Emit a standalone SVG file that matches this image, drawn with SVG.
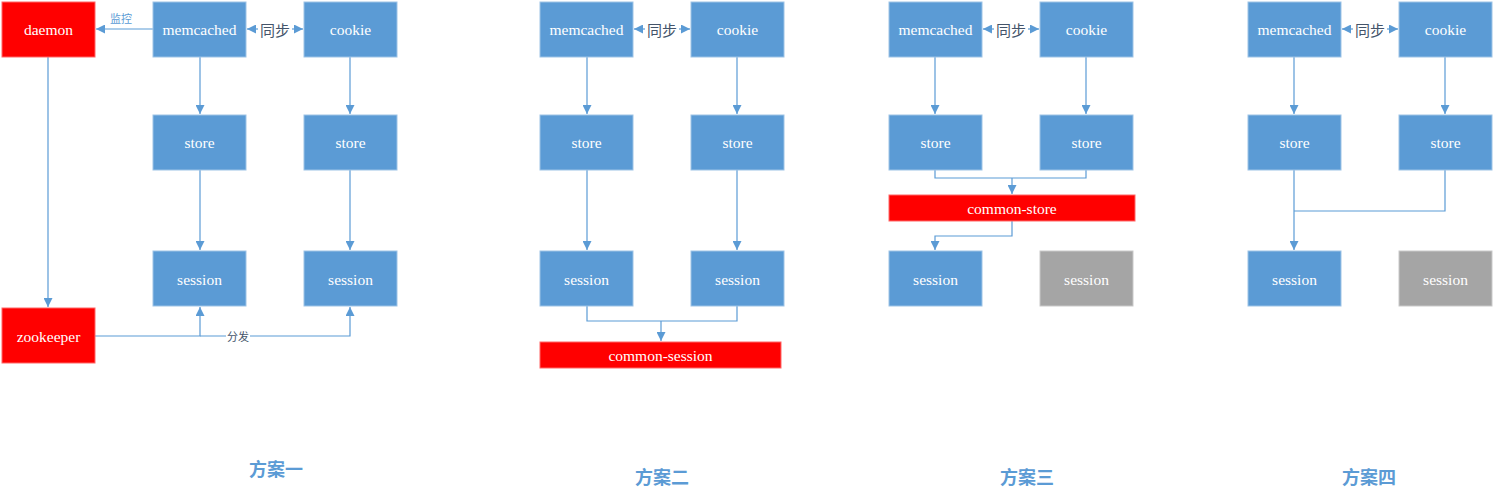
<svg xmlns="http://www.w3.org/2000/svg" width="1494" height="495" viewBox="0 0 1494 495">
<style>
.b{fill:#5B9BD5;stroke:#9DC3E6;stroke-width:1}
.r{fill:#FF0000;stroke:#FF6666;stroke-width:1}
.g{fill:#A5A5A5;stroke:#C9C9C9;stroke-width:1}
.t{font-family:"Liberation Serif","Noto Sans CJK SC",serif;font-size:15.5px;fill:#fff;text-anchor:middle;dominant-baseline:central}
.c{fill:none;stroke:#5B9BD5;stroke-width:1.2}
.sy{font-family:"Noto Sans CJK SC",sans-serif;font-size:15px;fill:#44546A;text-anchor:middle;dominant-baseline:central}
.lb{font-family:"Noto Sans CJK SC",sans-serif;font-size:11px;text-anchor:middle;dominant-baseline:central}
.ti{font-family:"Noto Sans CJK SC",sans-serif;font-size:18px;font-weight:bold;fill:#5B9BD5;text-anchor:middle;dominant-baseline:central}
</style>
<defs>
<marker id="a" viewBox="0 0 10 10" refX="10" refY="5" markerWidth="9" markerHeight="9" markerUnits="userSpaceOnUse" orient="auto">
<path d="M0,0 L10,5 L0,10 z" fill="#5B9BD5"/>
</marker>
</defs>
<g id="connectors">
<path class="c" d="M153,29 H96" marker-end="url(#a)"/>
<path class="c" d="M258,29 H247" marker-end="url(#a)"/>
<path class="c" d="M292,29 H303" marker-end="url(#a)"/>
<path class="c" d="M200,57 V114" marker-end="url(#a)"/>
<path class="c" d="M350,57 V114" marker-end="url(#a)"/>
<path class="c" d="M200,170 V250" marker-end="url(#a)"/>
<path class="c" d="M350,170 V250" marker-end="url(#a)"/>
<path class="c" d="M48,57 V307" marker-end="url(#a)"/>
<path class="c" d="M95,336 H200 V307" marker-end="url(#a)"/>
<path class="c" d="M200,336 H350 V307" marker-end="url(#a)"/>
<path class="c" d="M645,29 H634" marker-end="url(#a)"/>
<path class="c" d="M679,29 H690" marker-end="url(#a)"/>
<path class="c" d="M587,57 V114" marker-end="url(#a)"/>
<path class="c" d="M737,57 V114" marker-end="url(#a)"/>
<path class="c" d="M587,170 V250" marker-end="url(#a)"/>
<path class="c" d="M737,170 V250" marker-end="url(#a)"/>
<path class="c" d="M587,306 V321 H737 V306"/>
<path class="c" d="M661,321 V341" marker-end="url(#a)"/>
<path class="c" d="M994,29 H983" marker-end="url(#a)"/>
<path class="c" d="M1028,29 H1039" marker-end="url(#a)"/>
<path class="c" d="M935,57 V114" marker-end="url(#a)"/>
<path class="c" d="M1086,57 V114" marker-end="url(#a)"/>
<path class="c" d="M935,170 V178 H1086 V170"/>
<path class="c" d="M1012,178 V194" marker-end="url(#a)"/>
<path class="c" d="M1012,221 V236 H935 V250" marker-end="url(#a)"/>
<path class="c" d="M1353,29 H1342" marker-end="url(#a)"/>
<path class="c" d="M1387,29 H1398" marker-end="url(#a)"/>
<path class="c" d="M1294,57 V114" marker-end="url(#a)"/>
<path class="c" d="M1445,57 V114" marker-end="url(#a)"/>
<path class="c" d="M1294,170 V250" marker-end="url(#a)"/>
<path class="c" d="M1445,170 V211 H1294"/>
</g>
<g id="labels">
<text class="lb" x="121" y="18" fill="#5B9BD5">监控</text>
<text class="sy" x="275" y="29">同步</text>
<rect x="226" y="329" width="24" height="14" fill="#fff"/>
<text class="lb" x="238" y="336" fill="#44546A">分发</text>
<text class="sy" x="662" y="29">同步</text>
<text class="sy" x="1011" y="29">同步</text>
<text class="sy" x="1370" y="29">同步</text>
</g>
<g id="s1-daemon"><rect class="r" x="2" y="2" width="93" height="55"/><text class="t" x="48.5" y="29">daemon</text></g>
<g id="s1-memcached"><rect class="b" x="153" y="2" width="93" height="55"/><text class="t" x="199.5" y="29">memcached</text></g>
<g id="s1-cookie"><rect class="b" x="304" y="2" width="93" height="55"/><text class="t" x="350.5" y="29">cookie</text></g>
<g id="s1-store1"><rect class="b" x="153" y="115" width="93" height="55"/><text class="t" x="199.5" y="142">store</text></g>
<g id="s1-store2"><rect class="b" x="304" y="115" width="93" height="55"/><text class="t" x="350.5" y="142">store</text></g>
<g id="s1-session1"><rect class="b" x="153" y="251" width="93" height="55"/><text class="t" x="199.5" y="279">session</text></g>
<g id="s1-session2"><rect class="b" x="304" y="251" width="93" height="55"/><text class="t" x="350.5" y="279">session</text></g>
<g id="s1-zookeeper"><rect class="r" x="2" y="308" width="93" height="55"/><text class="t" x="48.5" y="336">zookeeper</text></g>
<g id="s2-memcached"><rect class="b" x="540" y="2" width="93" height="55"/><text class="t" x="586.5" y="29">memcached</text></g>
<g id="s2-cookie"><rect class="b" x="691" y="2" width="93" height="55"/><text class="t" x="737.5" y="29">cookie</text></g>
<g id="s2-store1"><rect class="b" x="540" y="115" width="93" height="55"/><text class="t" x="586.5" y="142">store</text></g>
<g id="s2-store2"><rect class="b" x="691" y="115" width="93" height="55"/><text class="t" x="737.5" y="142">store</text></g>
<g id="s2-session1"><rect class="b" x="540" y="251" width="93" height="55"/><text class="t" x="586.5" y="279">session</text></g>
<g id="s2-session2"><rect class="b" x="691" y="251" width="93" height="55"/><text class="t" x="737.5" y="279">session</text></g>
<g id="s2-common"><rect class="r" x="540" y="342" width="241" height="26"/><text class="t" x="660.5" y="355">common-session</text></g>
<g id="s3-memcached"><rect class="b" x="889" y="2" width="93" height="55"/><text class="t" x="935.5" y="29">memcached</text></g>
<g id="s3-cookie"><rect class="b" x="1040" y="2" width="93" height="55"/><text class="t" x="1086.5" y="29">cookie</text></g>
<g id="s3-store1"><rect class="b" x="889" y="115" width="93" height="55"/><text class="t" x="935.5" y="142">store</text></g>
<g id="s3-store2"><rect class="b" x="1040" y="115" width="93" height="55"/><text class="t" x="1086.5" y="142">store</text></g>
<g id="s3-common"><rect class="r" x="889" y="195" width="246" height="26"/><text class="t" x="1012" y="208">common-store</text></g>
<g id="s3-session1"><rect class="b" x="889" y="251" width="93" height="55"/><text class="t" x="935.5" y="279">session</text></g>
<g id="s3-session2"><rect class="g" x="1040" y="251" width="93" height="55"/><text class="t" x="1086.5" y="279">session</text></g>
<g id="s4-memcached"><rect class="b" x="1248" y="2" width="93" height="55"/><text class="t" x="1294.5" y="29">memcached</text></g>
<g id="s4-cookie"><rect class="b" x="1399" y="2" width="93" height="55"/><text class="t" x="1445.5" y="29">cookie</text></g>
<g id="s4-store1"><rect class="b" x="1248" y="115" width="93" height="55"/><text class="t" x="1294.5" y="142">store</text></g>
<g id="s4-store2"><rect class="b" x="1399" y="115" width="93" height="55"/><text class="t" x="1445.5" y="142">store</text></g>
<g id="s4-session1"><rect class="b" x="1248" y="251" width="93" height="55"/><text class="t" x="1294.5" y="279">session</text></g>
<g id="s4-session2"><rect class="g" x="1399" y="251" width="93" height="55"/><text class="t" x="1445.5" y="279">session</text></g>
<g id="titles">
<text class="ti" x="276" y="468">方案一</text>
<text class="ti" x="662" y="476">方案二</text>
<text class="ti" x="1027" y="476">方案三</text>
<text class="ti" x="1369" y="476">方案四</text>
</g>
</svg>
